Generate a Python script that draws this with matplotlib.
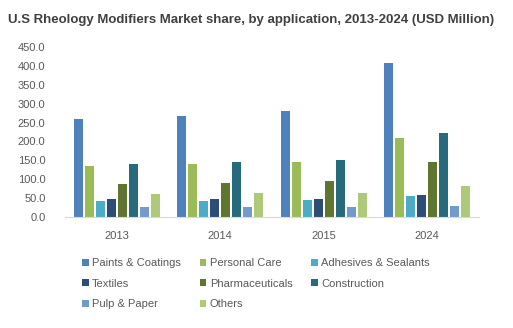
"""
U.S rheology modifiers market share by application, grouped bars.
"""

import numpy as np
import matplotlib.pyplot as plt

plt.rcParams['font.family'] = ['Liberation Sans', 'DejaVu Sans']

# Data
# ----------------------------------------------------------------------------

years = ['2013', '2014', '2015', '2024']
applications = ['Paints & Coatings', 'Personal Care', 'Adhesives & Sealants',
                'Textiles', 'Pharmaceuticals', 'Construction',
                'Pulp & Paper', 'Others']

paints = [259, 268, 281, 408]
personal = [135, 140, 145, 209]
adhesives = [42, 42, 45, 55]
textiles = [47, 48, 48, 57]
pharma = [87, 90, 95, 145]
construction = [140, 146, 150, 222]
pulp = [26, 26, 26, 28]
others = [60, 63, 63, 81]

colors = ['#4F81BD', '#9BBB59', '#4BACC6', '#2C4D75',
          '#5F7530', '#276A7C', '#729ACA', '#AFC97A']

# Plot
# ----------------------------------------------------------------------------

series = [paints, personal, adhesives, textiles, pharma, construction, pulp, others]

fig = plt.figure(figsize=(5.13, 3.28), dpi=100)
ax = fig.add_axes([65 / 513, 0.339, 414 / 513, 0.517])

x = np.arange(len(years))
pitch = 0.106
width = 0.087
bars = []
for i, (vals, c) in enumerate(zip(series, colors)):
    off = (i - 3.5) * pitch
    b = ax.bar(x + off, vals, width, color=c, label=applications[i])
    bars.append(b)

ax.set_xlim(-0.5, 3.5)
ax.set_ylim(0, 450)
ax.set_yticks(np.arange(0, 451, 50))
ax.set_yticklabels([f'{v:.1f}' for v in np.arange(0, 451, 50)])
ax.set_xticks(x)
ax.set_xticklabels(years)
ax.tick_params(axis='both', length=0, labelsize=8, colors='#595959')
ax.tick_params(axis='x', pad=10)
ax.tick_params(axis='y', pad=14)
for s in ['top', 'right', 'left']:
    ax.spines[s].set_visible(False)
ax.spines['bottom'].set_color('#D9D9D9')

fig.text(8 / 513, 1 - 20 / 328, 'U.S Rheology Modifiers Market share, by application, 2013-2024 (USD Million)',
         fontsize=9.5, fontweight='bold', color='#404040', va='center', ha='left')

order = [0, 3, 6, 1, 4, 7, 2, 5]
fig.legend([bars[i] for i in order], [applications[i] for i in order],
           ncol=3, loc='upper left', bbox_to_anchor=(82 / 513, 1 - 258 / 328),
           frameon=False, fontsize=8, handlelength=0.6, handleheight=0.6,
           handletextpad=0.3, columnspacing=1.7, labelspacing=0.95,
           labelcolor='#595959', borderaxespad=0, borderpad=0)

fig.savefig('out.png', dpi=100)
